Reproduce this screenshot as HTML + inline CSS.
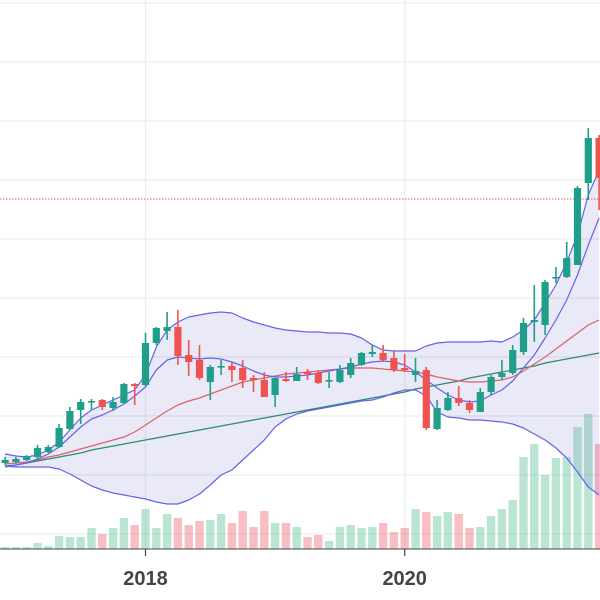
<!DOCTYPE html>
<html><head><meta charset="utf-8">
<style>
html,body{margin:0;padding:0;background:#fff;}
svg{display:block;}
</style></head>
<body>
<svg id="chart" width="600" height="600" viewBox="0 0 600 600" xmlns="http://www.w3.org/2000/svg"></svg>
<script>
// monthly data, first point = 13 months before Jan 2018
const startMonth = -13;
const openVals  = [137,138,140,143,148,153,171,190,198,200,192,197,216,215,257,269,273,245,240,218,233,234,232,222,220,205,221,219,228,227,219,218,225,235,246,247,242,232,225,230,171,190,202,197,188,208,223,227,248,278,275,322,323,335,417,462];
const highVals  = [143,143,145,155,155,176,193,201,201,201,203,217,217,267,273,288,290,260,255,235,240,238,240,225,228,222,228,233,231,230,228,235,242,248,255,255,250,246,242,233,200,208,214,200,212,225,240,255,282,315,320,333,358,414,472,465];
const lowVals   = [135,136,139,141,147,152,170,176,190,190,189,196,195,214,255,260,235,224,220,200,225,218,212,208,203,193,218,219,220,216,212,217,222,234,243,238,228,228,218,170,170,189,194,187,188,205,220,225,245,258,265,317,322,335,400,390];
const closeVals = [140,141,144,152,153,172,189,198,199,193,198,216,214,257,272,273,244,238,222,233,234,230,220,220,203,222,219,226,226,217,220,230,237,247,248,240,230,230,229,172,192,202,197,190,208,223,227,250,277,280,318,323,342,412,462,422];
const volumeVals= [2,2,2,6,3,13,12,12,21,15,21,31,24,40,21,35,31,24,28,29,35,26,38,22,38,26,26,22,12,14,8,22,24,21,22,26,17,21,40,37,33,37,35,21,22,33,40,49,92,105,74,91,92,122,135,105];
const upperBand = [146,144,143,145,150,158,170,182,190,195,200,205,210,225,253,270,278,283,285,287,288,287,282,278,275,272,270,269,268,268,267,267,266,262,255,250,249,249,249,254,257,258,258,258,258,259,258,263,270,280,297,315,338,365,405,430];
const midLine   = [134,135,137,141,146,153,163,173,181,185,190,196,204,213,230,240,243,242,241,242,241,238,234,229,225,223,223,224,225,227,229,231,233,236,238,239,238,235,228,220,212,205,200,198,199,205,210,219,232,245,262,280,300,325,355,382];
const lowerBand = [134,133,133,133,133,131,126,120,114,110,107,105,103,101,98,96,96,100,106,115,125,130,140,150,160,173,181,186,189,191,193,195,197,199,200,203,207,210,210,204,188,183,182,180,180,179,178,176,172,166,160,152,142,128,113,105];
const maRed     = [136,137,138,140,143,145,148,151,154,157,160,163,168,175,182,189,195,199,202,206,210,214,218,220,222,224,226,227,228,229,230,231,232,232,232,231,230,229,228,226,223,221,219,218,218,219,220,223,229,236,243,251,259,267,275,280];
const maGreen   = [133,135,137,139,141,143,145,147,150,152,154,156,158,160,162,164,166,168,170,172,174,176,178,180,182,184,186,188,190,192,194,196,198,200,202,204,206,208,211,213,215,217,219,222,224,226,228,230,232,234,237,239,241,243,245,247];
const yearTicks = [2018, 2020];
const yearMonths = [0, 24];
const hLevels = [3,62,121,180,239,298,357,416,475,534];

const NS = "http://www.w3.org/2000/svg";
const svg = document.getElementById('chart');
function xScale(m){ return 145.5 + 10.8*m; }
function yScale(v){ return 600 - v; }
function vScale(v){ return 549 - v; }
function mk(tag, attrs, parent){
  const e = document.createElementNS(NS, tag);
  for (const k in attrs) e.setAttribute(k, attrs[k]);
  (parent||svg).appendChild(e);
  return e;
}
const grid = mk('g', {});


hLevels.forEach(function(y){
  const l = mk('line', {x1:0, x2:600, y1:y, y2:y, stroke:'#ebedf0', 'stroke-width':1.2}, grid);
  
  
});
yearMonths.forEach(function(m){
  const x = xScale(m);
  const l = mk('line', {x1:x, x2:x, y1:0, y2:549, stroke:'#ebedf0', 'stroke-width':1.2}, grid);
  
  
});
const volG = mk('g', {});


volumeVals.forEach(function(v, i){
  const m = startMonth + i, x = xScale(m);
  const up = closeVals[i] >= openVals[i];
  const r = mk('rect', {x:x-4.2, y:vScale(v), width:8.4, height:v, fill: up ? 'rgba(60,180,130,0.35)' : 'rgba(239,83,100,0.38)'}, volG);
  
  
});
function pts(arr){ return arr.map(function(v,i){ return xScale(startMonth+i).toFixed(1)+','+yScale(v).toFixed(1); }); }
const up = pts(upperBand), lo = pts(lowerBand).reverse();
const fill = mk('polygon', {points: up.concat(lo).join(' '), fill:'rgba(110,110,200,0.15)'});


function line(arr, color, name, w){
  const p = mk('polyline', {points: pts(arr).join(' '), fill:'none', stroke:color, 'stroke-width':w||1.2, 'stroke-linejoin':'round'});
  
  
}
line(maGreen, '#2e8b6e', 'ma-green');
line(maRed, '#e0606a', 'ma-red');
line(upperBand, '#6464e6', 'upper-band');
line(lowerBand, '#6464e6', 'lower-band');
line(midLine, '#6464e6', 'mid-line');
const ref = mk('line', {x1:0, x2:600, y1:199, y2:199, stroke:'#ef5350', 'stroke-width':1, 'stroke-dasharray':'1.5,1.5'});


const cG = mk('g', {});


openVals.forEach(function(o, i){
  const m = startMonth + i, x = xScale(m), c = closeVals[i];
  const col = c >= o ? '#1f9e89' : '#ef5350';
  const g = mk('g', {}, cG);
  
  
  mk('line', {x1:x, x2:x, y1:yScale(highVals[i]), y2:yScale(lowVals[i]), stroke:col, 'stroke-width':1.6}, g);
  const top = yScale(Math.max(o,c)), h = Math.max(1.6, Math.abs(o-c));
  mk('rect', {x:x-3.6, y:top, width:7.2, height:h, fill:col}, g);
});
const ax = mk('line', {x1:0, x2:600, y1:549, y2:549, stroke:'#444', 'stroke-width':1});


yearTicks.forEach(function(t, k){
  const x = xScale(yearMonths[k]);
  const tk = mk('line', {x1:x, x2:x, y1:549, y2:556, stroke:'#444', 'stroke-width':1.2});
  
  
  const tx = mk('text', {x:x, y:585, 'text-anchor':'middle', 'font-family':'"Liberation Sans", sans-serif', 'font-size':20, 'font-weight':'bold', fill:'#444'});
  tx.textContent = String(t);
  
  
});
</script>
</body></html>
